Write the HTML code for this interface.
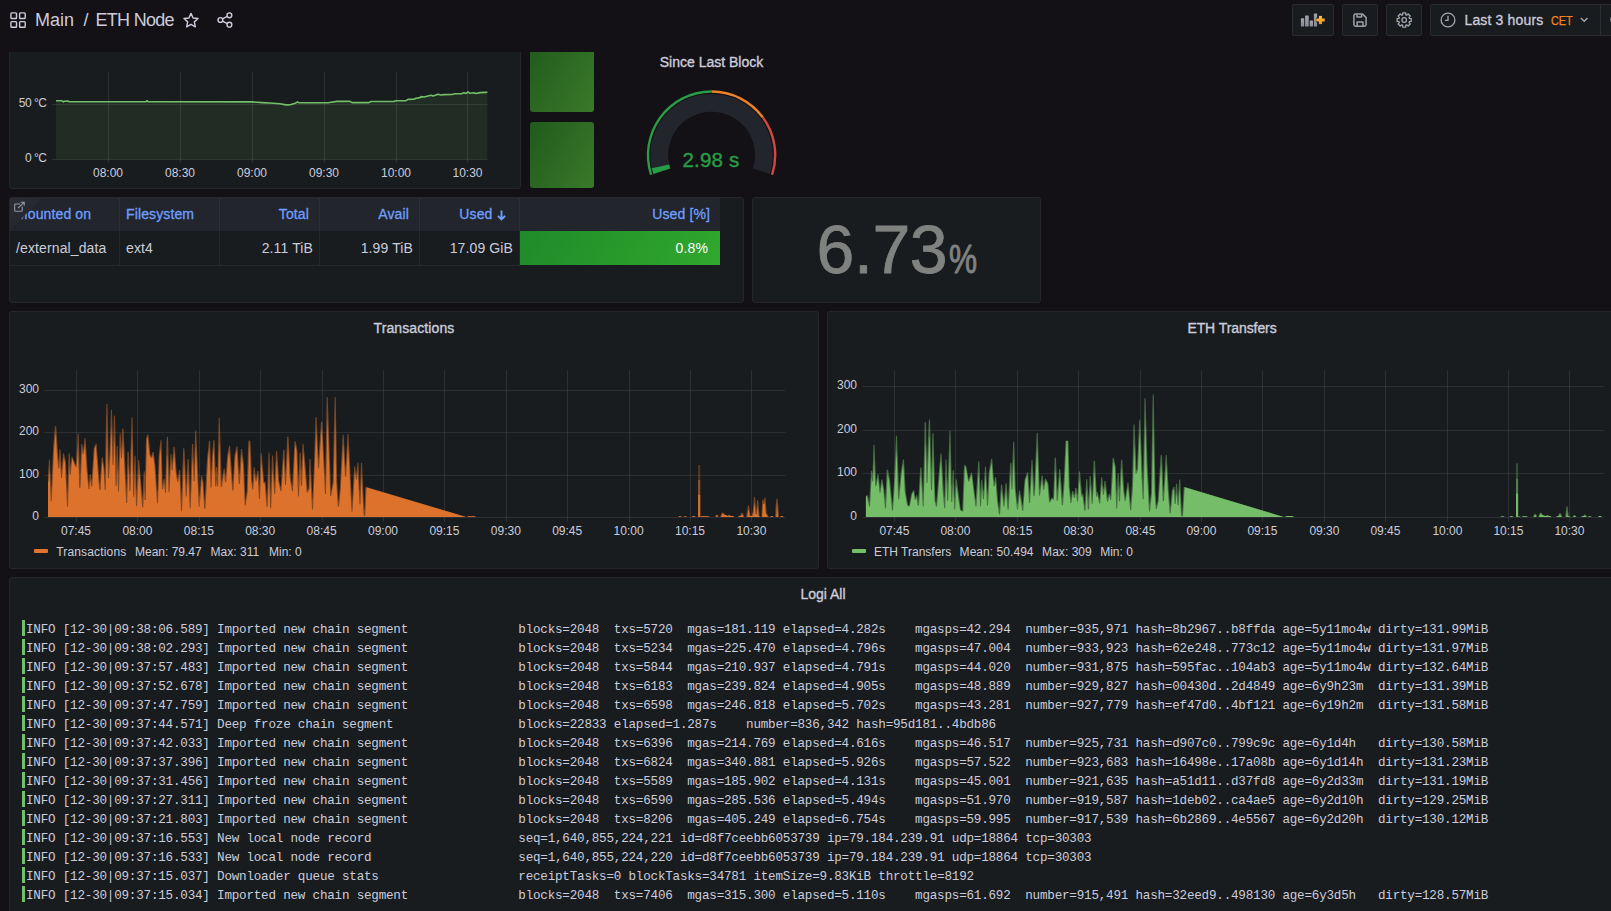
<!DOCTYPE html>
<html lang="en">
<head>
<meta charset="utf-8">
<title>ETH Node - Grafana</title>
<style>
*{box-sizing:border-box;margin:0;padding:0}
html,body{width:1611px;height:911px;overflow:hidden;background:#131115;color:#ccccdc;font-family:"Liberation Sans",sans-serif;font-size:14px}
.abs{position:absolute}
.panel{position:absolute;background:#181c1e;border:1px solid #25252b;border-radius:3px;overflow:hidden}
.ptitle{position:absolute;left:0;right:0;top:6px;height:20px;line-height:20px;text-align:center;font-size:14px;color:#ccccdc;-webkit-text-stroke:0.35px #ccccdc;white-space:nowrap}
.tbtn{position:absolute;top:4px;height:32px;background:#181c1e;border:1px solid #2a2c32;border-radius:2px}
svg{position:absolute;left:0;top:0;overflow:visible}
svg text{font-family:"Liberation Sans",sans-serif;fill:#ccccdc;font-size:12px}
.ax{font-size:12px;fill:#ccccdc}
.th{position:absolute;top:0;height:33px;line-height:32px;color:#6e9fff;font-size:14px;letter-spacing:0.12px;-webkit-text-stroke:0.3px #6e9fff;white-space:nowrap;border-right:1px solid #2c2f35;padding:0 10px 0 6px}
.td{position:absolute;top:33px;height:35px;line-height:35px;color:#ccccdc;font-size:14px;letter-spacing:0.12px;white-space:nowrap;border-right:1px solid #26282d;border-bottom:1px solid #26282d;padding:0 6px 0 6px}
.r{text-align:right}
.legend{position:absolute;font-size:12px;line-height:16px;color:#ccccdc;white-space:nowrap}
#logs{position:absolute;left:0;top:0}
.ll{position:absolute;left:16px;height:19px;line-height:19px;white-space:pre;font-family:"Liberation Mono",monospace;font-size:12.6px;letter-spacing:-0.21px;color:#ccccdc}
.lb{position:absolute;left:12px;width:3px;height:16px;background:#73bf69}
</style>
</head>
<body>
<div class="panel" id="p-temp" style="left:9px;top:30px;width:512px;height:159px"></div>
<div class="abs" id="g1" style="left:530px;top:40px;width:64px;height:72px;border-radius:3px;background:linear-gradient(120deg,#215a1c,#3a7a2a)"></div>
<div class="abs" id="g2" style="left:530px;top:122px;width:64px;height:66px;border-radius:3px;background:linear-gradient(120deg,#215a1c,#3a7a2a)"></div>
<div class="abs" id="p-gauge" style="left:603px;top:46px;width:217px;height:143px"><div class="ptitle" style="top:6px">Since Last Block</div></div>
<div class="panel" id="p-table" style="left:9px;top:197px;width:735px;height:106px">
<div class="abs" style="left:0;top:0;width:710px;height:33px;background:#22252b"></div>
<div class="th " style="left:0px;width:110px;">Mounted on</div>
<div class="td " style="left:0px;width:110px">/external_data</div>
<div class="th " style="left:110px;width:100px;">Filesystem</div>
<div class="td " style="left:110px;width:100px">ext4</div>
<div class="th r" style="left:210px;width:100px;">Total</div>
<div class="td r" style="left:210px;width:100px">2.11 TiB</div>
<div class="th r" style="left:310px;width:100px;">Avail</div>
<div class="td r" style="left:310px;width:100px">1.99 TiB</div>
<div class="th r" style="left:410px;width:100px;padding-right:13.5px;">Used<svg style="position:static;display:inline-block;vertical-align:-2px;margin-left:4px" width="9" height="11" viewBox="0 0 9 11"><path d="M4.5 0.6 V9.4 M0.9 5.8 L4.5 9.5 L8.1 5.8" fill="none" stroke="#6e9fff" stroke-width="1.9"/></svg></div>
<div class="td r" style="left:410px;width:100px">17.09 GiB</div>
<div class="th r" style="left:510px;width:200px;border-right:none;padding-right:10px">Used [%]</div>
<div class="td r" style="left:510px;width:200px;border:none;height:34px;background:linear-gradient(120deg,#1f8a29,#30a82d);color:#fff;padding-right:12px">0.8%</div>
<svg width="40" height="40" viewBox="0 0 40 40"><defs><linearGradient id="gc" x1="0" y1="0" x2="1" y2="1"><stop offset="0" stop-color="#2b2e35"/><stop offset="0.5" stop-color="#25282e"/></linearGradient></defs><path d="M0 0 H32 L0 32 Z" fill="url(#gc)"/><g fill="none" stroke="#9597a3" stroke-width="1.1"><path d="M10.2 6 H5.6 a0.9 0.9 0 0 0 -0.9 0.9 V12.4 a0.9 0.9 0 0 0 0.9 0.9 H11.3 a0.9 0.9 0 0 0 0.9 -0.9 V8.6"/><path d="M8 10.2 L13.8 4.6 M10.6 4.3 H14.2 V7.8"/></g></svg>
</div>
<div class="panel" id="p-stat" style="left:752px;top:197px;width:289px;height:106px"><div class="abs" id="bigv" style="left:63.5px;top:10.5px;font-size:68px;line-height:80px;color:#808280;-webkit-text-stroke:0.8px #808280;white-space:nowrap;letter-spacing:-0.4px">6.73</div><div class="abs" id="bigp" style="left:196px;top:37px;font-size:40.5px;line-height:48px;color:#808280;-webkit-text-stroke:0.9px #808280;transform:scaleX(0.78);transform-origin:0 0">%</div></div>
<div class="panel" id="p-tx" style="left:9px;top:311px;width:810px;height:258px"><div class="ptitle" style="letter-spacing:0.1px">Transactions</div>
<div class="abs" style="left:24px;top:237px;width:14px;height:4px;background:#e0742d;border-radius:1px"></div><span class="legend" style="left:46.2px;top:232px;letter-spacing:0.17px">Transactions</span><span class="legend" style="left:125.0px;top:232px;letter-spacing:0px">Mean: 79.47</span><span class="legend" style="left:200.4px;top:232px;letter-spacing:0.04px">Max: 311</span><span class="legend" style="left:259.0px;top:232px;letter-spacing:0px">Min: 0</span>
</div>
<div class="panel" id="p-eth" style="left:827px;top:311px;width:810px;height:258px"><div class="ptitle" style="letter-spacing:-0.08px">ETH Transfers</div>
<div class="abs" style="left:24px;top:237px;width:14px;height:4px;background:#73bf69;border-radius:1px"></div><span class="legend" style="left:46.0px;top:232px;letter-spacing:0px">ETH Transfers</span><span class="legend" style="left:131.6px;top:232px;letter-spacing:0.05px">Mean: 50.494</span><span class="legend" style="left:214.1px;top:232px;letter-spacing:0.04px">Max: 309</span><span class="legend" style="left:272.2px;top:232px;letter-spacing:0px">Min: 0</span>
</div>
<div class="panel" id="p-logs" style="left:9px;top:577px;width:1628px;height:400px"><div class="ptitle">Logi All</div>
<div class="lb" style="top:42px"></div><div class="ll" style="top:43px">INFO [12-30|09:38:06.589] Imported new chain segment               blocks=2048  txs=5720  mgas=181.119 elapsed=4.282s    mgasps=42.294  number=935,971 hash=8b2967..b8ffda age=5y11mo4w dirty=131.99MiB</div>
<div class="lb" style="top:61px"></div><div class="ll" style="top:62px">INFO [12-30|09:38:02.293] Imported new chain segment               blocks=2048  txs=5234  mgas=225.470 elapsed=4.796s    mgasps=47.004  number=933,923 hash=62e248..773c12 age=5y11mo4w dirty=131.97MiB</div>
<div class="lb" style="top:80px"></div><div class="ll" style="top:81px">INFO [12-30|09:37:57.483] Imported new chain segment               blocks=2048  txs=5844  mgas=210.937 elapsed=4.791s    mgasps=44.020  number=931,875 hash=595fac..104ab3 age=5y11mo4w dirty=132.64MiB</div>
<div class="lb" style="top:99px"></div><div class="ll" style="top:100px">INFO [12-30|09:37:52.678] Imported new chain segment               blocks=2048  txs=6183  mgas=239.824 elapsed=4.905s    mgasps=48.889  number=929,827 hash=00430d..2d4849 age=6y9h23m  dirty=131.39MiB</div>
<div class="lb" style="top:118px"></div><div class="ll" style="top:119px">INFO [12-30|09:37:47.759] Imported new chain segment               blocks=2048  txs=6598  mgas=246.818 elapsed=5.702s    mgasps=43.281  number=927,779 hash=ef47d0..4bf121 age=6y19h2m  dirty=131.58MiB</div>
<div class="lb" style="top:137px"></div><div class="ll" style="top:138px">INFO [12-30|09:37:44.571] Deep froze chain segment                 blocks=22833 elapsed=1.287s    number=836,342 hash=95d181..4bdb86</div>
<div class="lb" style="top:156px"></div><div class="ll" style="top:157px">INFO [12-30|09:37:42.033] Imported new chain segment               blocks=2048  txs=6396  mgas=214.769 elapsed=4.616s    mgasps=46.517  number=925,731 hash=d907c0..799c9c age=6y1d4h   dirty=130.58MiB</div>
<div class="lb" style="top:175px"></div><div class="ll" style="top:176px">INFO [12-30|09:37:37.396] Imported new chain segment               blocks=2048  txs=6824  mgas=340.881 elapsed=5.926s    mgasps=57.522  number=923,683 hash=16498e..17a08b age=6y1d14h  dirty=131.23MiB</div>
<div class="lb" style="top:194px"></div><div class="ll" style="top:195px">INFO [12-30|09:37:31.456] Imported new chain segment               blocks=2048  txs=5589  mgas=185.902 elapsed=4.131s    mgasps=45.001  number=921,635 hash=a51d11..d37fd8 age=6y2d33m  dirty=131.19MiB</div>
<div class="lb" style="top:213px"></div><div class="ll" style="top:214px">INFO [12-30|09:37:27.311] Imported new chain segment               blocks=2048  txs=6590  mgas=285.536 elapsed=5.494s    mgasps=51.970  number=919,587 hash=1deb02..ca4ae5 age=6y2d10h  dirty=129.25MiB</div>
<div class="lb" style="top:232px"></div><div class="ll" style="top:233px">INFO [12-30|09:37:21.803] Imported new chain segment               blocks=2048  txs=8206  mgas=405.249 elapsed=6.754s    mgasps=59.995  number=917,539 hash=6b2869..4e5567 age=6y2d20h  dirty=130.12MiB</div>
<div class="lb" style="top:251px"></div><div class="ll" style="top:252px">INFO [12-30|09:37:16.553] New local node record                    seq=1,640,855,224,221 id=d8f7ceebb6053739 ip=79.184.239.91 udp=18864 tcp=30303</div>
<div class="lb" style="top:270px"></div><div class="ll" style="top:271px">INFO [12-30|09:37:16.533] New local node record                    seq=1,640,855,224,220 id=d8f7ceebb6053739 ip=79.184.239.91 udp=18864 tcp=30303</div>
<div class="lb" style="top:289px"></div><div class="ll" style="top:290px">INFO [12-30|09:37:15.037] Downloader queue stats                   receiptTasks=0 blockTasks=34781 itemSize=9.83KiB throttle=8192</div>
<div class="lb" style="top:308px"></div><div class="ll" style="top:309px">INFO [12-30|09:37:15.034] Imported new chain segment               blocks=2048  txs=7406  mgas=315.300 elapsed=5.110s    mgasps=61.692  number=915,491 hash=32eed9..498130 age=6y3d5h   dirty=128.57MiB</div>
</div>
<svg id="charts" width="1611" height="911" viewBox="0 0 1611 911">
<line x1="108.5" x2="108.5" y1="72" y2="163" stroke="#c8d2d2" stroke-opacity="0.115" stroke-width="1"/><line x1="180.5" x2="180.5" y1="72" y2="163" stroke="#c8d2d2" stroke-opacity="0.115" stroke-width="1"/><line x1="252.5" x2="252.5" y1="72" y2="163" stroke="#c8d2d2" stroke-opacity="0.115" stroke-width="1"/><line x1="324.5" x2="324.5" y1="72" y2="163" stroke="#c8d2d2" stroke-opacity="0.115" stroke-width="1"/><line x1="396.5" x2="396.5" y1="72" y2="163" stroke="#c8d2d2" stroke-opacity="0.115" stroke-width="1"/><line x1="467.5" x2="467.5" y1="72" y2="163" stroke="#c8d2d2" stroke-opacity="0.115" stroke-width="1"/><line x1="52" x2="487.5" y1="104.5" y2="104.5" stroke="#c8d2d2" stroke-opacity="0.115" stroke-width="1"/><line x1="52" x2="487.5" y1="159.5" y2="159.5" stroke="#c8d2d2" stroke-opacity="0.115" stroke-width="1"/>
<path d="M56 100.8L62 100.8L63.5 101.9L64 101.2L68 101L69 101.7L146 101.7L147 100.6L148 101.7L252 101.9L262 102.6L270 103L280 103.8L286 104.9L291 104.6L296 103L297.5 101.8L299 102.8L328 102.7L337 101.4L350 101.4L352 102.6L369 102.6L371 101.5L394 101.5L396 100.7L406 100.6L408 99.4L414 99.3L416 98.2L420 97.6L421 96.6L424 97L428 96L431 95.2L433 96L436 95L438 94.2L441 95L444 94.6L452 94.5L455 93.8L462 93.6L464 92.8L466 93.4L468 92L470 93.3L474 92.8L476 93.5L480 92.6L486 92.4L487.4 92L487.4 159.5L56 159.5Z" fill="#73bf69" fill-opacity="0.1"/>
<path d="M56 100.8L62 100.8L63.5 101.9L64 101.2L68 101L69 101.7L146 101.7L147 100.6L148 101.7L252 101.9L262 102.6L270 103L280 103.8L286 104.9L291 104.6L296 103L297.5 101.8L299 102.8L328 102.7L337 101.4L350 101.4L352 102.6L369 102.6L371 101.5L394 101.5L396 100.7L406 100.6L408 99.4L414 99.3L416 98.2L420 97.6L421 96.6L424 97L428 96L431 95.2L433 96L436 95L438 94.2L441 95L444 94.6L452 94.5L455 93.8L462 93.6L464 92.8L466 93.4L468 92L470 93.3L474 92.8L476 93.5L480 92.6L486 92.4L487.4 92" fill="none" stroke="#73bf69" stroke-width="1.6" stroke-linejoin="round"/>
<text class="ax" x="108" y="177" text-anchor="middle">08:00</text>
<text class="ax" x="180" y="177" text-anchor="middle">08:30</text>
<text class="ax" x="252" y="177" text-anchor="middle">09:00</text>
<text class="ax" x="324" y="177" text-anchor="middle">09:30</text>
<text class="ax" x="396" y="177" text-anchor="middle">10:00</text>
<text class="ax" x="467.5" y="177" text-anchor="middle">10:30</text>
<text class="ax" x="46.6" y="107" text-anchor="end" style="letter-spacing:-0.45px">50 °C</text>
<text class="ax" x="46.6" y="162" text-anchor="end" style="letter-spacing:-0.45px">0 °C</text>
<line x1="76.5" x2="76.5" y1="370" y2="522" stroke="#c8d2d2" stroke-opacity="0.115" stroke-width="1"/><line x1="137.5" x2="137.5" y1="370" y2="522" stroke="#c8d2d2" stroke-opacity="0.115" stroke-width="1"/><line x1="199.5" x2="199.5" y1="370" y2="522" stroke="#c8d2d2" stroke-opacity="0.115" stroke-width="1"/><line x1="260.5" x2="260.5" y1="370" y2="522" stroke="#c8d2d2" stroke-opacity="0.115" stroke-width="1"/><line x1="322.5" x2="322.5" y1="370" y2="522" stroke="#c8d2d2" stroke-opacity="0.115" stroke-width="1"/><line x1="383.5" x2="383.5" y1="370" y2="522" stroke="#c8d2d2" stroke-opacity="0.115" stroke-width="1"/><line x1="444.5" x2="444.5" y1="370" y2="522" stroke="#c8d2d2" stroke-opacity="0.115" stroke-width="1"/><line x1="506.5" x2="506.5" y1="370" y2="522" stroke="#c8d2d2" stroke-opacity="0.115" stroke-width="1"/><line x1="567.5" x2="567.5" y1="370" y2="522" stroke="#c8d2d2" stroke-opacity="0.115" stroke-width="1"/><line x1="629.5" x2="629.5" y1="370" y2="522" stroke="#c8d2d2" stroke-opacity="0.115" stroke-width="1"/><line x1="690.5" x2="690.5" y1="370" y2="522" stroke="#c8d2d2" stroke-opacity="0.115" stroke-width="1"/><line x1="751.5" x2="751.5" y1="370" y2="522" stroke="#c8d2d2" stroke-opacity="0.115" stroke-width="1"/><line x1="44.5" x2="785.5" y1="390.5" y2="390.5" stroke="#c8d2d2" stroke-opacity="0.115" stroke-width="1"/><line x1="44.5" x2="785.5" y1="432.5" y2="432.5" stroke="#c8d2d2" stroke-opacity="0.115" stroke-width="1"/><line x1="44.5" x2="785.5" y1="475.5" y2="475.5" stroke="#c8d2d2" stroke-opacity="0.115" stroke-width="1"/><line x1="44.5" x2="785.5" y1="517.5" y2="517.5" stroke="#c8d2d2" stroke-opacity="0.115" stroke-width="1"/>
<defs><filter id="hb" x="-1%" y="-1%" width="102%" height="102%"><feGaussianBlur stdDeviation="0.55 0.15"/></filter></defs>
<g clip-path="url(#ctx)"><path d="M48 474.4L49 459.4L50 459.4L51.2 489.9L53.2 446.5L55 426.3L56.2 426.3L58.5 460.8L58.7 461.3L59.5 449.6L60.5 449.6L61.5 468.5L61.7 469.3L63 453.5L64 453.5L66 462.7L67.2 492.5L68.7 453.2L69.7 453.2L70.5 467.1L71.5 456.7L72.5 456.7L75 463.3L75.7 465L76 464.9L77.7 433.5L78.7 433.5L80 475.2L81.2 443.9L82.2 443.9L83.2 450.6L84.5 438.3L85.5 438.3L87.5 469L88.7 482.5L89 482.7L89.7 474.4L90.7 474.4L91.5 480.4L91.7 479.3L93.7 448.3L95.7 443.7L96.7 443.7L99.7 484.3L101.7 457.2L102.7 457.2L104.5 468.8L105 477L106.2 409.7L106.5 403.9L107.5 403.9L108.7 465.8L109.7 447.2L111 409.9L112 409.9L113 447.1L114 415.4L115 415.4L116.2 466L116.7 446.1L117.7 446.1L118.5 472.7L119.7 433.2L120.7 433.2L121.5 448.2L122.2 428.5L123.2 428.5L123.5 429.6L126.5 489.7L127.5 452.8L127.7 451.8L128.7 451.8L129.7 474.4L130 473.2L131.5 417.2L132.5 417.2L133.7 476.9L134.5 455.7L135.5 455.7L136.7 492.2L138.2 460L139.2 460L142.5 498.7L143.7 471.3L144.7 471.3L145 476.5L145.2 473.7L146 438.6L147.2 434.4L148.2 434.4L148.5 435.7L150.5 455L151.2 456.5L152.5 452.1L153.5 452.1L153.7 452.8L155.5 465.9L157.2 492.1L157.5 491L158.7 455.6L160.5 440.2L161.5 440.2L162.7 484.5L163.7 478.8L164.7 478.8L165.2 484.4L166.7 439.7L167 436.7L168 436.7L169.2 477.8L170.5 454.2L171.5 454.2L172.2 463.6L173.5 446.9L174.7 447L176.7 472.7L177.7 478.7L179.2 469.8L180.2 469.8L181.5 497.3L183.2 448.3L184.2 448.3L184.5 449.7L186.2 485.8L187.5 459.2L188.5 459.2L188.7 459.5L190.2 494L192 443.9L193 443.9L193.2 445.6L194 465.5L194.2 464.4L195.2 430.8L196.2 430.8L199.2 496.8L199.5 496.6L201 475.9L202 475.9L203.5 481.9L204.7 500.7L207 459.2L209 440.7L210 440.7L210.2 441.3L211 470.4L211.2 471.8L212 456.1L213.2 442.2L213.5 440L214.5 440L215.7 473.5L216 467L217 467L217.5 473.9L218.7 417.8L219.7 417.8L221.7 481.5L223.7 468.4L224.7 468.4L225.5 476.7L227.2 456L229 445.8L230 445.8L230.2 447.9L232.7 483.9L234.5 455.7L236.5 446.5L237.5 446.5L237.7 449.1L239.2 475.3L241 449.1L242 449.1L244 465.1L245.5 500.3L246.7 491.6L248.2 444L248.5 440.6L249.5 440.6L250.2 441.1L250.5 441.8L252 480.1L252.5 484.6L253.7 467.3L254.7 467.3L256 478.3L257.2 471.1L258.5 471.1L259.5 486.8L260.7 453.3L261.7 453.3L264.2 482.3L264.5 482L265.5 482L267 497.9L268.5 452.5L269.5 452.5L270.7 492.2L272 455.4L273 455.4L274.5 483.8L276 451L277 451L277.2 452L279.2 480.8L280.7 487.8L283.2 449.8L284.2 449.8L284.5 450.3L285.5 473.6L287.2 436.7L288.5 436.6L290.5 475.2L292 485.5L292.2 485.9L294.5 441.1L295.5 441.1L297.2 449.1L297.5 451.6L298.5 481.6L299.5 453.5L299.7 452.6L300.7 452.6L301.5 471.7L302.5 443.7L303.5 443.7L307.7 490.5L308.5 488.4L309.5 459.1L310.5 459.1L312.5 499.2L314 465L315.5 417L316.5 417L316.7 419.3L318.5 459L321 421.8L322.2 421.9L325.2 478.3L326.7 397L327.7 397L331 489.7L331.2 490.4L332.7 482L334.7 397L335.7 397L337.2 481.3L338.5 501.9L339.7 490L342.7 434.7L343.7 434.7L345.5 467.3L345.7 466.8L347.5 434.1L348.5 434.1L352 502.8L354.2 466.5L355.2 466.5L356.2 474.7L357.5 462.4L358.5 462.4L359.7 490L360 490.5L361 463.1L362 463.1L364.2 509.9L364.5 509.5L365.2 489.4L365.5 487.1L366.5 487.1L466.5 517L467.7 516.3L475.7 516.3L476.2 517L678 517L678.7 516.1L681.5 516.1L681.7 517L683.7 517L684 516.1L686.5 516.1L687 517L691.5 517L692 516L695.5 516L695.7 517L699.7 517L700.2 516.3L709.5 516.3L709.7 517L715.2 517L715.7 514.7L718 514.7L718.7 517L720 517L722 512.5L723 512.5L725 514.7L726.7 515.1L727.5 515.7L728.7 514.9L729.7 514.9L731.5 516.1L734.2 516.1L734.5 517L737.7 517L738.2 516L740.2 515.8L741.5 512.7L742.5 512.7L744.5 517L746.2 517L748 505.4L749 505.4L750.5 515.4L750.7 516.1L751.5 516L752.7 512L754 497L755 497L756.2 510.8L757.2 500.1L758.2 500.1L759.5 515.6L760.5 517L761.2 517L761.5 515.8L762.2 499.5L763.2 499.5L763.7 501.8L764.5 497.6L765.5 497.6L766.7 513.7L767.7 514.6L768.7 517L769.7 517L770.2 516.1L773.2 516.1L773.7 517L775.2 517L775.7 505.1L776.5 498.5L777.5 498.5L778.2 504.7L779 517L779.7 517L780.2 516L783.5 516L783.7 517L785.7 517L785.7 517L48 517Z" fill="#e0742d" fill-opacity="0.5"/><path d="M48 481.9L48.5 481.9L49.5 469.5L50.7 501.3L51.7 501.3L54 450.3L55.5 432.1L57 455.4L58.2 468.4L59.2 468.4L60 459.1L61 478L62 478L63.7 456.9L65 462.7L67 506.7L68 506.7L69.2 465.7L69.7 474.7L70.7 474.7L72.2 458.7L75.7 467.3L76.7 467.3L78 447L79.2 487.8L80.5 487.7L82 450.2L82.7 454.1L83.7 454.1L85 444L86.5 469L88.5 489L89.5 489L90.2 479.6L91.2 486.4L92.2 486.4L94.7 448.3L95.7 446L99.2 489.7L99.5 490L100.5 490L102.2 462.6L102.5 462.2L103.5 468.8L104.7 490.1L105.7 490.1L107 428.7L108 478.2L109 478.2L110.5 453.4L111.5 427.1L112.5 465L113.5 465L114.5 434.6L115.5 482.7L115.7 485.9L116.7 485.9L117.2 466L118 491.6L119 491.6L120.2 446.1L121 458.2L122 458.2L123 440.5L126.2 503L127.2 503L128.2 463.7L129.5 491.2L130.5 491.2L132 436.7L133.2 496.8L134.2 496.8L135 472.2L136 505.9L137 505.9L139 468.7L142.2 507.4L143.2 507.4L144.2 487.9L144.5 499.4L144.7 500L145.7 500L146.7 447.3L147 438.6L147.5 436.9L149.5 455L151 458L152 458L153 454.7L154.5 465.9L157 503.3L158 503.3L159.7 455.6L160.7 447.2L162 488.9L163 488.9L164 483L165 492.8L166 492.8L167.2 455.1L167.5 455.3L168.5 492.3L169.5 492.3L171 462.2L171.7 470.2L172.7 470.2L174 453.6L174.2 453.5L175.7 472.7L177.2 481.7L178.2 481.7L179.5 474.4L181 511.3L182 511.3L184 460.4L185.7 496.4L186.7 496.4L188 469.8L189.7 508.3L190.7 508.3L192.5 458.2L192.7 458.8L193.5 478.7L193.7 481.2L194.7 481.2L195.7 447.6L196 447.5L198.7 506.8L199.7 506.8L201.7 478.9L202.5 481.9L204.2 508.2L204.5 508.8L205.5 508.8L208 459.2L209.2 447.6L210.5 487.4L211.5 487.4L213 456.1L213.7 447.5L215.2 486.4L216.2 486.4L216.5 480L217 486.6L218 486.6L218.2 485.3L219.2 439.7L220.7 486.2L221 486.9L222 486.9L224 472.5L225 482.3L226 482.3L226.2 481.7L228.2 456L229.2 450.2L232.2 489.4L232.5 490.4L233.5 490.4L235.2 458.3L235.5 455.7L236.7 449.9L238.7 484.1L239.7 484.1L240 482L241.7 454.5L243 465.1L244.7 505.5L245.7 505.5L247.7 491.6L249.5 441.8L251 480.1L252.2 489.3L253.2 489.3L254.5 473.6L255.5 481.2L256.5 481.2L257.5 475.4L257.7 475.7L259 498.9L260 498.9L261.5 461.2L263.2 482.5L263.5 483.3L264.5 483.3L264.7 483.9L266.5 506.8L267.5 506.8L267.7 506.3L269 469.8L270 504.3L270.2 508.3L271.2 508.3L272.5 467.9L274.2 494L275.2 494L276.7 459.5L278.2 480.8L280.5 491.3L281.5 491.3L283.7 457.5L285 484.9L286 484.9L288 446.3L289.7 478L292 491.2L293 491.2L295.2 444.5L296.5 451.6L298 496.6L299 496.6L300 468.7L300.2 468L300.7 483.4L301 485.8L302 485.8L303.2 451.2L306.7 492.4L308 492.5L309.5 488.4L310 474.5L310.2 473.8L312 509.4L313 509.4L316.2 430.7L318 468.4L319 468.4L321.5 429.6L321.7 430.8L325 493.9L326 493.9L327.5 417L330.2 496L331.2 496L333.7 482L335.2 419.5L336.2 481.3L337.7 506.5L339 506.7L340.7 490L343.2 444L345 476.7L346 476.7L346.2 476.1L348 443.9L351.5 511.8L352.5 511.8L354.7 473.5L355 472.6L356 479.6L357 479.6L357.7 471L359.5 504.2L360.5 504.2L361.5 476.8L361.7 477.4L363.5 514L364 516.1L364.2 516.2L365.2 516.2L366.5 487.4L466 517L467.2 517L468.7 516.3L474.7 516.3L475.2 517L679 517L679.7 516.1L680.5 516.1L680.7 517L684.7 517L685 516.1L685.5 516.1L686 517L692.5 517L693 516L694.5 516L694.7 517L700.7 517L701.2 516.3L708.5 516.3L708.7 517L716.2 517L716.7 514.7L717 514.7L717.7 517L721 517L722.7 513.2L724 514.7L725.7 515.1L727 516L728 516L729.2 515.2L730.5 516.1L733.2 516.1L733.5 517L738.7 517L739.2 516L741.2 515.8L742 513.9L743.5 517L747.2 517L748.5 508.9L749.7 516.1L752.5 516L753.7 512L754.5 503L755.5 513.8L756 514.5L757 514.5L757.7 506.6L758.5 515.6L759.5 517L762.2 517L763 504L764.2 504.1L764.7 501.9L765.7 513.7L766.7 514.6L767.7 517L770.7 517L771.2 516.1L772.2 516.1L772.7 517L776.2 517L777 502.8L778 517L780.7 517L781.2 516L782.5 516L782.7 517L785.7 517L785.7 517L48 517Z" fill="#e0742d" fill-opacity="0.97"/></g>
<defs><clipPath id="ctx"><rect x="47.4" y="380" width="738.2" height="137"/></clipPath><clipPath id="ceth"><rect x="865.7" y="376" width="738" height="141"/></clipPath></defs>
<path d="M47.96 481.91 L49.55 458.03 L51.15 502.61 L53.54 448.47 L55.61 424.59 L57.52 456.43 L58.79 469.17 L59.90 448.47 L61.50 478.73 L63.41 453.25 L65.48 462.80 L67.39 508.98 L69.14 451.66 L70.25 475.54 L71.85 456.43 L74.24 462.80 L76.31 467.58 L78.22 433.34 L79.81 491.46 L81.72 443.69 L83.31 454.84 L85.06 437.32 L86.97 469.17 L88.89 489.87 L90.16 473.95 L91.75 486.69 L94.14 448.47 L96.21 443.69 L98.12 472.36 L99.87 491.46 L102.10 456.43 L104.01 469.17 L105.29 491.46 L106.88 399.90 L108.47 478.73 L110.06 451.66 L111.50 408.66 L112.93 465.99 L114.52 413.44 L116.11 489.87 L117.23 445.29 L118.50 493.06 L120.10 430.96 L121.53 459.62 L122.80 426.18 L124.71 467.58 L126.78 504.20 L128.06 448.47 L129.97 491.46 L132.04 414.24 L133.63 499.43 L135.06 452.45 L136.50 507.39 L138.73 459.62 L140.64 483.50 L142.71 507.39 L144.30 469.17 L145.10 505.80 L146.37 438.92 L147.80 434.14 L149.87 454.84 L151.46 458.03 L153.06 451.66 L154.97 465.99 L157.52 504.20 L159.11 456.43 L161.02 439.71 L162.29 489.87 L164.20 478.73 L165.48 493.06 L167.39 434.14 L168.98 493.06 L170.89 453.25 L172.17 470.76 L174.08 445.29 L176.15 472.36 L177.74 481.91 L179.81 469.17 L181.40 512.96 L183.79 446.08 L186.18 497.04 L188.09 456.43 L190.16 509.78 L192.55 441.31 L194.14 483.50 L195.73 430.16 L197.64 475.54 L199.24 507.39 L201.37 475.54 L202.96 481.91 L204.87 510.57 L207.42 459.62 L209.65 438.92 L210.92 488.28 L212.52 454.84 L213.95 439.71 L215.70 486.69 L216.50 465.99 L217.61 489.87 L219.20 417.42 L221.27 488.28 L224.14 467.58 L225.57 483.50 L227.64 456.43 L229.55 445.29 L231.31 473.95 L232.90 491.46 L234.81 456.43 L237.04 446.08 L239.27 485.10 L241.50 448.47 L243.57 465.99 L245.16 505.80 L247.23 491.46 L248.82 440.51 L249.94 441.31 L251.53 481.91 L252.80 489.87 L254.24 466.78 L255.83 481.91 L257.90 469.97 L259.49 499.43 L261.24 452.45 L263.79 483.50 L265.06 481.91 L267.13 508.98 L268.89 450.06 L270.64 510.57 L272.39 454.04 L274.62 496.24 L276.53 449.27 L278.60 480.32 L280.99 491.46 L283.85 447.68 L285.45 485.10 L287.83 434.14 L290.06 477.13 L292.45 491.46 L294.84 440.51 L296.91 450.06 L298.50 497.83 L300.10 449.27 L301.37 488.28 L302.96 443.69 L304.87 462.80 L307.26 493.06 L309.01 488.28 L309.97 458.82 L312.52 510.57 L314.43 465.99 L316.02 415.03 L318.41 469.17 L321.59 419.81 L323.66 456.43 L325.57 496.24 L327.17 395.92 L329.08 446.88 L330.67 496.24 L333.22 481.91 L335.29 393.54 L336.72 481.91 L338.31 508.18 L340.22 489.87 L343.18 434.14 L345.57 478.73 L347.96 434.14 L351.94 512.17 L354.65 465.99 L356.40 480.32 L357.99 462.01 L359.90 505.80 L361.50 462.01 L363.89 513.76 L364.68 516.62 L365.80 487.01 L466.59 516.62 M678.50 517.30 L679.13 516.15 L681.00 516.15 L681.19 517.27 L684.27 517.27 L684.45 516.15 L686.13 516.15 L686.32 517.27 L692.20 517.27 L692.38 515.97 L695.00 515.97 L695.18 517.27 M715.81 517.27 L716.18 514.66 L717.68 514.66 L718.05 517.27 L720.48 516.53 L722.53 512.33 L724.40 514.66 L726.26 515.13 L727.38 516.06 L729.25 514.85 L730.93 516.06 L733.73 516.15 L733.92 517.27 L738.21 517.27 L738.58 516.06 L740.73 515.78 L741.94 512.61 L743.25 515.59 L743.99 517.27 L746.79 516.53 L748.47 505.33 L750.06 516.06 L751.93 516.06 L753.14 512.80 L754.54 496.00 L755.94 513.73 L756.59 514.66 L757.81 498.80 L758.93 515.59 L759.86 517.27 L761.91 516.53 L762.66 499.26 L763.78 504.40 L764.99 497.40 L766.21 513.73 L767.33 514.66 L768.07 517.27 L770.41 517.27 L770.69 516.06 L772.93 516.06 L773.11 517.27 L775.73 517.27 L776.19 505.33 L776.94 498.33 L777.78 505.33 L778.34 517.27 L780.21 517.27 L780.58 515.97 L783.01 515.97 L783.19 517.27" fill="none" stroke="#e0742d" stroke-width="1" stroke-linejoin="round" stroke-opacity="0.0"/>
<text class="ax" x="76.0" y="535" text-anchor="middle">07:45</text>
<text class="ax" x="137.4" y="535" text-anchor="middle">08:00</text>
<text class="ax" x="198.8" y="535" text-anchor="middle">08:15</text>
<text class="ax" x="260.2" y="535" text-anchor="middle">08:30</text>
<text class="ax" x="321.6" y="535" text-anchor="middle">08:45</text>
<text class="ax" x="383.0" y="535" text-anchor="middle">09:00</text>
<text class="ax" x="444.4" y="535" text-anchor="middle">09:15</text>
<text class="ax" x="505.8" y="535" text-anchor="middle">09:30</text>
<text class="ax" x="567.2" y="535" text-anchor="middle">09:45</text>
<text class="ax" x="628.6" y="535" text-anchor="middle">10:00</text>
<text class="ax" x="690.0" y="535" text-anchor="middle">10:15</text>
<text class="ax" x="751.4" y="535" text-anchor="middle">10:30</text>
<text class="ax" x="39" y="393.2" text-anchor="end">300</text>
<text class="ax" x="39" y="435.2" text-anchor="end">200</text>
<text class="ax" x="39" y="478.2" text-anchor="end">100</text>
<text class="ax" x="39" y="520.2" text-anchor="end">0</text>
<line x1="894.5" x2="894.5" y1="370" y2="522" stroke="#c8d2d2" stroke-opacity="0.115" stroke-width="1"/><line x1="955.5" x2="955.5" y1="370" y2="522" stroke="#c8d2d2" stroke-opacity="0.115" stroke-width="1"/><line x1="1017.5" x2="1017.5" y1="370" y2="522" stroke="#c8d2d2" stroke-opacity="0.115" stroke-width="1"/><line x1="1078.5" x2="1078.5" y1="370" y2="522" stroke="#c8d2d2" stroke-opacity="0.115" stroke-width="1"/><line x1="1140.5" x2="1140.5" y1="370" y2="522" stroke="#c8d2d2" stroke-opacity="0.115" stroke-width="1"/><line x1="1201.5" x2="1201.5" y1="370" y2="522" stroke="#c8d2d2" stroke-opacity="0.115" stroke-width="1"/><line x1="1262.5" x2="1262.5" y1="370" y2="522" stroke="#c8d2d2" stroke-opacity="0.115" stroke-width="1"/><line x1="1324.5" x2="1324.5" y1="370" y2="522" stroke="#c8d2d2" stroke-opacity="0.115" stroke-width="1"/><line x1="1385.5" x2="1385.5" y1="370" y2="522" stroke="#c8d2d2" stroke-opacity="0.115" stroke-width="1"/><line x1="1447.5" x2="1447.5" y1="370" y2="522" stroke="#c8d2d2" stroke-opacity="0.115" stroke-width="1"/><line x1="1508.5" x2="1508.5" y1="370" y2="522" stroke="#c8d2d2" stroke-opacity="0.115" stroke-width="1"/><line x1="1569.5" x2="1569.5" y1="370" y2="522" stroke="#c8d2d2" stroke-opacity="0.115" stroke-width="1"/><line x1="862.5" x2="1603.5" y1="386.5" y2="386.5" stroke="#c8d2d2" stroke-opacity="0.115" stroke-width="1"/><line x1="862.5" x2="1603.5" y1="430.5" y2="430.5" stroke="#c8d2d2" stroke-opacity="0.115" stroke-width="1"/><line x1="862.5" x2="1603.5" y1="473.5" y2="473.5" stroke="#c8d2d2" stroke-opacity="0.115" stroke-width="1"/><line x1="862.5" x2="1603.5" y1="517.5" y2="517.5" stroke="#c8d2d2" stroke-opacity="0.115" stroke-width="1"/>
<g fill="#e0742d"><rect x="698.1" y="465" width="2.1" height="52" opacity="0.3"/><rect x="698.1" y="480" width="2.1" height="37" opacity="0.45"/><rect x="698.1" y="495" width="2.1" height="22" opacity="0.9"/></g>
<g fill="#77c06a"><rect x="1516" y="463.3" width="2.1" height="53.7" opacity="0.3"/><rect x="1516" y="478.7" width="2.1" height="38.3" opacity="0.45"/><rect x="1516" y="493.6" width="2.1" height="23.4" opacity="0.9"/></g>
<g clip-path="url(#ceth)"><path d="M865.7 496.3L866.7 495.3L867.7 495.3L868 495.7L869.2 502.4L871 470.7L872 470.7L872.5 474.8L873.5 444.7L874.5 444.7L876 482.3L877.5 474.3L878.5 474.3L880 487.8L880.2 488L881.2 479.8L881.5 479.4L882.5 479.4L884.2 489.6L885.2 500.1L886.7 470.1L887 469.8L888 469.8L890 479.8L892.5 505L894 481.3L896 435.8L897 435.8L899 491.3L900.7 473.1L903 459.6L904 459.6L905.7 491.7L908 505.1L909 506L911.2 494L913.2 490.3L914.2 490.3L915.2 497.2L915.5 497.5L916.2 495.2L917.2 495.2L918.2 501.2L920.2 467.9L920.5 467.4L921.5 467.4L923 493.4L923.2 490.5L924.7 421.9L925.7 421.9L926 424.2L927 464.4L928.7 423.1L929 419.6L930 419.6L931.5 472.6L932.2 437.8L932.5 433.3L933.5 433.3L935.2 495.2L935.5 500.5L936.2 503.6L940.5 453.5L941.5 453.5L944.2 497.2L944.5 497.7L945.5 459.5L946.5 459.5L947.7 485.3L949.5 431.1L950.5 431.1L951.7 484.3L952 486.1L952.7 470.3L953.7 470.3L954.7 499L955.7 479.3L956.7 479.3L960.7 509L961 510L962.2 510.9L964 465.3L965.2 465.1L966.5 466.9L968.7 479.7L971 472.4L972 472.4L975.7 500.4L978.2 461.3L979.2 461.3L979.5 464.3L980.5 493L981.2 479.8L982.2 479.8L983.2 491L983.5 491.2L985 466.8L986 466.8L987.5 495L988.7 473.5L991 459.3L991.2 458.9L992.2 458.9L994.2 482.4L995.2 477.3L996.2 477.3L998 500.5L999.2 509.2L1001 484.4L1002 484.4L1002.2 485.5L1004 501.2L1005.5 483.8L1005.7 483.3L1006.7 483.3L1008 502.1L1010.2 462.8L1011.2 462.8L1011.5 463.9L1012 475.6L1013.2 441.7L1014.2 441.7L1015.7 488.1L1017.2 503.4L1017.5 504.6L1019 490.6L1020 490.6L1022.7 505.9L1024.5 480L1027.2 472.3L1028.2 472.3L1029.5 493.9L1031.5 460.1L1032.5 460.1L1034.2 490L1036.7 433L1037.7 433L1039.7 489.7L1041.5 475.8L1042.7 475.5L1043.7 485.1L1044 485.3L1045 478.8L1046 478.8L1048.2 483.3L1048.5 484.7L1050 500.7L1051.5 497.7L1052.5 497.7L1053 498.3L1053.2 497.9L1054.7 457.5L1055.7 457.5L1056 459.9L1057.5 492.3L1059.2 469L1060.2 469L1062.5 498.2L1064 475.7L1065.5 441.3L1065.7 440.8L1068.2 440.8L1068.5 441.2L1069.7 486.4L1071 499.1L1072 491L1073.2 490.9L1074.2 495L1074.5 494.8L1075.2 488.2L1075.5 487.9L1076.5 487.9L1077.2 494.7L1077.5 494.7L1079 471.6L1080 471.6L1082 494.4L1082.2 493.7L1083.2 493.7L1084.7 505.7L1086.2 478.9L1087.2 478.9L1088.5 499.6L1089.7 476L1090.7 476L1092.2 495.7L1093.7 460.8L1094.7 460.8L1095 462L1096.7 492.1L1097.7 492.1L1099.5 499.9L1101.2 477.2L1102.2 477.2L1103.5 489.7L1104.5 480.7L1105.5 480.7L1107.7 498.3L1108.7 493.8L1109.7 493.8L1110.5 496.2L1112.5 459.2L1112.7 457.9L1113.7 457.9L1115.7 466.5L1116.7 494.2L1117.7 473.2L1118.7 473.2L1119.5 490.1L1121 461.2L1121.2 459.8L1122.2 459.8L1124 488.1L1125.2 497.5L1127.5 482.5L1128.5 482.5L1130.5 503.1L1130.7 503.4L1132.2 480.5L1133.5 424.4L1134.5 424.4L1136.5 470.7L1137 469.2L1137.2 465.8L1139.2 419.7L1140.2 419.7L1143 485L1144.5 398.3L1145.5 398.3L1147.5 463.9L1149.7 504.4L1151 492.9L1152.7 394.5L1153.7 394.5L1155.5 491.5L1156.5 506L1157.7 501L1160.7 455L1161.7 455L1162 456.5L1163.5 492.4L1165.7 455L1166.7 455L1168.7 489.7L1170.2 507.3L1172 490L1173.5 487L1174.5 487L1175.2 496L1176 483.8L1177 483.8L1178 497.5L1179.2 479.6L1180.2 479.6L1182 515L1183.7 486.9L1184.7 486.9L1284.2 517L1286.2 516.1L1293.5 516.1L1294 517L1499.5 517L1501.7 516.3L1504.2 516.3L1504.7 517L1509.5 517L1510 516.1L1513 516.1L1513.5 517L1517.7 517L1518 516.3L1520.2 516.3L1520.7 517L1521.5 517L1522 516.2L1527.5 516.2L1528 517L1533.2 517L1533.7 514.6L1536.5 514.6L1537 517L1538 517L1540 513L1540.2 512.7L1541.2 512.7L1542.7 514.7L1544.7 515.7L1545.5 515.9L1546.7 515.2L1548 515.2L1549.5 516.1L1551.2 516.1L1551.7 517L1555.5 517L1556 516.4L1558.2 515.8L1559.5 513L1560.5 513L1562.5 517L1565.2 517L1566.5 506.3L1567.5 506.3L1568.7 515.9L1569 516.3L1570.5 516.3L1570.7 517L1572.2 517L1573.7 515.3L1575 515.1L1576.7 517L1580.5 517L1581 516.4L1583 516L1584.5 514.6L1585.5 514.6L1587.2 517L1588 516.2L1591.5 516.2L1591.7 517L1597.7 517L1598.2 516.1L1601.7 516.1L1602 517L1603.7 517L1603.7 517L865.7 517Z" fill="#77c06a" fill-opacity="0.5"/><path d="M865.7 496.8L866.2 496.8L867 496.1L869 506.5L870 506.5L871.7 476.9L872.2 481.3L873.2 481.3L874 459.9L875.2 486.3L876.2 486.3L878 477.8L879.5 492.8L880.5 492.8L882 482.3L883.2 489.6L885 508.3L886 508.3L887.7 473.5L889.2 481.7L892 510.8L893 510.8L895 481.3L896.5 449.4L898.2 499.2L899.2 499.2L901.5 475.3L903.2 464.1L904.7 491.7L907 505.1L908.7 506.6L909.7 506.6L912.2 494L913.5 491.6L914.5 499.1L914.7 499.7L915.7 499.7L916.5 497.5L917.7 505.5L919 505.4L920.7 476.2L921 476.1L922.7 506.4L923.7 506.4L925.2 444.8L925.5 444.3L926.5 483.1L927.5 483.1L929.2 436.5L929.5 437.3L931 490.3L932 490.3L932.2 485.8L933 451L934.5 500.5L936 506.6L937 506.6L940.7 462L941 462.2L942.7 491.7L944.2 508.2L945.2 508.2L946 475.5L947.2 500.8L948.2 500.8L950 451L951.2 501.9L952.2 501.9L953.2 482.8L954.2 509.4L955.2 509.4L956.5 484.8L958 497.3L960 510L962.2 511.5L963.2 511.5L965 466.2L965.7 467.7L968.2 481.6L969.2 481.6L971.2 474.9L971.5 475.2L975.5 506.4L976.5 506.4L978.7 471.5L980 506.3L981 506.3L982 487.8L983 499.3L984 499.3L985.5 474.9L987 505.4L988 505.4L989.7 473.5L991.5 462.4L993.5 485.3L993.7 486.3L994.7 486.3L995.5 481.8L997 500.5L999 514.4L1000 514.4L1000.2 512.2L1001.7 490.2L1003.5 506.5L1004.5 506.5L1006 489.6L1007.5 509.5L1008.7 509.6L1010.7 472.2L1011.5 489.5L1012.5 489.5L1013.7 457.1L1014.7 488.1L1017 509.6L1018 509.6L1019.5 494.5L1019.7 494.3L1022.2 510.7L1023.2 510.7L1025.2 482.1L1025.5 480L1027.2 475.1L1027.5 475.4L1029 502.9L1030 502.9L1032 469.7L1033.2 493.6L1033.5 496.2L1034.5 496.2L1035.2 490L1037 448.6L1037.2 448.2L1039 495.6L1040 495.6L1042 479.7L1043.2 489.8L1044.2 489.8L1045.7 480.3L1047.2 483.3L1047.5 484.7L1049 501.9L1049.2 502.2L1050.2 502.2L1052 498.7L1053 499.8L1054 499.8L1055.2 471L1055.5 471.6L1056.7 500.8L1057.7 500.8L1058 499L1059.7 475.9L1061.7 504.5L1062 505.3L1063 505.3L1064.7 480.4L1066.5 441.3L1066.7 440.8L1067.2 440.8L1067.5 441.2L1068.7 486.4L1070.5 503.1L1071.5 503.1L1072.7 493L1074 498.1L1075 498.1L1075.7 492.6L1076 492.4L1077 501.4L1078 501.4L1079.5 479.3L1081 495L1081.2 496.5L1082.2 496.5L1082.5 495.8L1084.2 509.9L1084.5 510.7L1085.5 510.7L1086.7 488.5L1087.7 508.6L1088 509.6L1089 509.6L1090.2 484.6L1091.7 503.7L1092.7 503.7L1094.5 470.8L1096 496.6L1097 496.6L1097.2 495.1L1097.5 495.2L1099.2 503.4L1100.2 503.4L1101.7 483.6L1103 494.7L1104 494.7L1105 485.7L1107 501.8L1108 501.8L1109.2 496.1L1110.2 499.9L1111.2 499.9L1113.5 461.2L1114.7 466.5L1115 470.4L1116.2 508.4L1117.2 508.4L1118.2 484.5L1119 501.3L1120 501.3L1121.7 467.9L1123.2 491L1124.7 500.7L1125.7 500.7L1128 486.7L1130 508.5L1130.2 510.2L1131.2 510.2L1133 486.1L1134.2 443.1L1135.5 473.7L1136.5 473.7L1138 469.2L1139.7 432.1L1141.2 470.7L1142.7 499.3L1143.7 499.3L1145.2 421.1L1146.5 463.9L1149 511.4L1150 511.4L1152 492.9L1153.2 424.2L1154.5 491.5L1155.7 509L1156.7 509L1158.7 501L1161.2 462.9L1162.7 501.1L1163.7 501.1L1164 500.7L1166.2 463.3L1167.7 489.7L1169.7 513.2L1170.7 513.2L1173 490L1173.5 489L1173.7 490.2L1174.7 504.1L1175.7 504.1L1176.5 491.9L1177.5 504.5L1177.7 505.2L1178.7 505.2L1179.7 488.6L1181 515L1181.7 516.6L1182.7 516.6L1183 516L1184.7 487.2L1283.7 517L1285 517L1287.2 516.1L1292.5 516.1L1293 517L1500.5 517L1502.7 516.3L1503.2 516.3L1503.7 517L1510.5 517L1511 516.1L1512 516.1L1512.5 517L1518.7 517L1519 516.3L1519.5 516.4L1519.7 517L1522.5 517L1523 516.2L1526.5 516.2L1527 517L1534.2 517L1534.7 514.6L1535.5 514.6L1536 517L1539 517L1540.7 513.5L1542 514.9L1544 515.8L1546.2 516L1547.5 515.5L1548.5 516.1L1550.2 516.1L1550.7 517L1556.5 517L1557 516.4L1559.2 515.8L1560 514.2L1560.7 515.8L1561.7 517L1566.2 517L1567 510.5L1567.7 515.9L1568 516.3L1569.5 516.3L1569.7 517L1573 517L1574.5 515.6L1575.7 517L1581.5 517L1582 516.4L1584 516L1585 515.3L1586.2 517L1588.5 517L1589 516.2L1590.5 516.2L1590.7 517L1598.7 517L1599.2 516.1L1600.7 516.1L1601 517L1603.7 517L1603.7 517L865.7 517Z" fill="#77c06a" fill-opacity="0.97"/></g>
<path d="M865.70 496.81 L867.35 495.16 L869.49 506.69 L871.46 470.47 L872.78 482.00 L873.93 444.14 L875.58 486.93 L878.05 473.77 L880.02 493.52 L881.83 478.70 L883.81 490.23 L885.45 508.33 L887.26 468.83 L889.57 480.35 L892.53 511.63 L894.51 480.35 L896.48 435.08 L898.62 500.10 L901.09 473.77 L903.56 458.95 L905.21 491.87 L907.35 505.04 L909.32 506.69 L911.79 493.52 L913.77 490.23 L915.08 500.10 L916.73 495.16 L918.37 506.69 L920.84 465.53 L923.31 508.33 L925.29 417.80 L926.93 483.64 L929.40 417.80 L931.54 493.52 L932.86 430.14 L934.84 500.10 L936.48 506.69 L938.95 477.06 L940.93 453.19 L943.07 490.23 L944.71 508.33 L945.86 457.30 L947.67 501.75 L949.98 430.14 L951.63 503.40 L953.27 468.83 L954.59 511.63 L956.23 478.70 L958.37 496.81 L960.35 509.98 L962.82 511.63 L964.47 464.71 L966.11 467.18 L968.58 482.00 L971.54 472.12 L973.52 486.93 L975.99 506.69 L978.79 459.77 L980.43 506.69 L981.75 478.70 L983.40 500.10 L985.53 465.53 L987.51 506.69 L989.16 473.77 L991.63 458.13 L994.09 486.93 L995.74 477.06 L997.39 500.10 L999.53 514.92 L1001.50 483.64 L1003.97 506.69 L1006.11 482.00 L1008.09 511.63 L1010.82 460.60 L1011.98 490.23 L1013.62 439.20 L1015.27 490.23 L1017.41 509.98 L1019.38 490.23 L1020.70 496.81 L1022.84 511.63 L1024.81 480.35 L1027.78 472.12 L1029.42 503.40 L1031.89 458.95 L1033.87 496.81 L1034.69 490.23 L1037.16 431.79 L1039.30 496.81 L1042.10 474.59 L1043.74 490.23 L1045.39 478.70 L1047.86 483.64 L1049.51 502.57 L1051.98 497.63 L1053.62 500.10 L1055.27 455.66 L1057.24 501.75 L1059.71 468.83 L1062.35 506.69 L1064.32 478.70 L1065.97 440.84 L1067.94 440.84 L1069.26 488.58 L1070.91 503.40 L1072.55 490.23 L1074.53 498.46 L1075.84 486.93 L1077.49 501.75 L1079.47 471.30 L1081.60 496.81 L1082.76 493.52 L1084.90 511.63 L1086.71 478.70 L1088.35 511.63 L1090.16 475.41 L1092.30 505.04 L1094.28 458.95 L1096.42 496.81 L1097.24 491.87 L1099.71 503.40 L1101.69 477.06 L1103.50 495.16 L1104.98 480.35 L1107.45 501.75 L1109.26 493.52 L1110.74 500.10 L1113.05 457.30 L1115.35 467.18 L1116.67 509.16 L1118.15 472.12 L1119.47 501.75 L1121.60 458.13 L1123.58 490.23 L1125.23 500.93 L1128.02 482.00 L1130.66 510.80 L1132.63 483.64 L1133.95 424.38 L1135.93 473.77 L1137.57 468.83 L1139.71 419.44 L1141.69 470.47 L1143.33 501.75 L1144.98 396.40 L1146.95 463.89 L1149.42 511.63 L1151.56 491.87 L1153.21 393.93 L1154.86 490.23 L1156.17 509.16 L1158.15 501.75 L1161.32 453.19 L1163.29 503.40 L1166.26 454.01 L1168.23 490.23 L1170.21 513.27 L1172.35 490.23 L1173.99 486.93 L1175.14 505.04 L1176.46 483.64 L1178.11 506.69 L1179.75 478.70 L1181.40 514.92 L1182.39 516.56 L1184.20 486.93 L1284.28 516.56 L1286.75 516.07 L1293.00 516.07 L1293.33 516.89 M1510.13 517.24 L1510.41 516.12 L1512.65 516.12 L1512.84 517.24 M1533.73 517.24 L1534.10 514.63 L1535.97 514.63 L1536.25 517.24 L1538.58 516.68 L1540.63 512.57 L1542.31 514.81 L1544.37 515.75 L1545.76 516.03 L1547.35 515.09 L1549.03 516.12 L1550.90 516.12 L1551.08 517.24 M1556.49 516.31 L1558.82 515.75 L1560.04 512.76 L1561.16 515.75 L1562.09 517.24 L1565.82 517.24 L1566.19 512.76 L1566.94 506.23 L1567.78 512.76 L1568.25 516.31 M1572.63 517.24 L1573.28 516.03 L1574.40 515.09 L1575.62 516.31 M1581.49 516.31 L1583.54 516.03 L1584.94 514.63 L1586.16 516.31 M1598.28 517.24 L1598.66 516.12 L1601.27 516.12 L1601.46 517.24" fill="none" stroke="#73bf69" stroke-width="1" stroke-linejoin="round" stroke-opacity="0.0"/>
<text class="ax" x="894.4" y="535" text-anchor="middle">07:45</text>
<text class="ax" x="955.4" y="535" text-anchor="middle">08:00</text>
<text class="ax" x="1017.4" y="535" text-anchor="middle">08:15</text>
<text class="ax" x="1078.4" y="535" text-anchor="middle">08:30</text>
<text class="ax" x="1140.4" y="535" text-anchor="middle">08:45</text>
<text class="ax" x="1201.4" y="535" text-anchor="middle">09:00</text>
<text class="ax" x="1262.4" y="535" text-anchor="middle">09:15</text>
<text class="ax" x="1324.4" y="535" text-anchor="middle">09:30</text>
<text class="ax" x="1385.4" y="535" text-anchor="middle">09:45</text>
<text class="ax" x="1447.4" y="535" text-anchor="middle">10:00</text>
<text class="ax" x="1508.4" y="535" text-anchor="middle">10:15</text>
<text class="ax" x="1569.4" y="535" text-anchor="middle">10:30</text>
<text class="ax" x="857" y="389.2" text-anchor="end">300</text>
<text class="ax" x="857" y="433.2" text-anchor="end">200</text>
<text class="ax" x="857" y="476.2" text-anchor="end">100</text>
<text class="ax" x="857" y="520.2" text-anchor="end">0</text>
<path d="M653.40 174.01 A61.2 61.2 0 1 1 769.80 174.01 L752.88 168.51 A43.4 43.4 0 1 0 670.32 168.51 Z" fill="#22252b"/>
<path d="M653.40 174.01 A61.2 61.2 0 0 1 651.85 168.35 L669.23 164.49 A43.4 43.4 0 0 0 670.32 168.51 Z" fill="#299c46"/>
<path d="M649.97 175.12 A64.8 64.8 0 0 1 711.60 90.30 L711.60 92.70 A62.4 62.4 0 0 0 652.25 174.38 Z" fill="#299c46"/>
<path d="M711.60 90.30 A64.8 64.8 0 0 1 763.69 116.56 L761.76 117.98 A62.4 62.4 0 0 0 711.60 92.70 Z" fill="#ed8128"/>
<path d="M763.69 116.56 A64.8 64.8 0 0 1 773.23 175.12 L770.95 174.38 A62.4 62.4 0 0 0 761.76 117.98 Z" fill="#d44a3a"/>
<text x="711.0" y="167" text-anchor="middle" style="font-size:20.5px;fill:#299c46;stroke:#299c46;stroke-width:0.4px;letter-spacing:0.2px">2.98 s</text>
</svg>
<div id="topbar" class="abs" style="left:0;top:0;width:1611px;height:52px;background:#131115">
<svg width="1611" height="40" viewBox="0 0 1611 40">
<g fill="none" stroke="#ccccdc" stroke-width="1.4"><rect x="10.9" y="12.9" width="5.6" height="5.6" rx="0.8"/><rect x="19.6" y="12.9" width="5.6" height="5.6" rx="0.8"/><rect x="10.9" y="21.6" width="5.6" height="5.6" rx="0.8"/><rect x="19.6" y="21.6" width="5.6" height="5.6" rx="0.8"/></g>
<path d="M191.00 13.40 L193.06 17.97 L198.04 18.51 L194.33 21.88 L195.35 26.79 L191.00 24.30 L186.65 26.79 L187.67 21.88 L183.96 18.51 L188.94 17.97 Z" fill="none" stroke="#ccccdc" stroke-width="1.4" stroke-linejoin="round"/>
<g fill="none" stroke="#ccccdc" stroke-width="1.4"><circle cx="229.4" cy="15.3" r="2.4"/><circle cx="220.4" cy="20" r="2.4"/><circle cx="229.4" cy="24.7" r="2.4"/><path d="M222.5 18.9 L227.3 16.4 M222.5 21.1 L227.3 23.6"/></g>
</svg>
<div class="abs" id="title" style="left:35px;top:8px;font-size:18px;line-height:24px;white-space:nowrap;color:#ccccdc"><span>Main</span><span style="position:absolute;left:48.5px">/</span><span style="position:absolute;left:60.5px;letter-spacing:-0.7px">ETH Node</span></div>
<div class="tbtn" style="left:1292px;width:42px"><svg width="40" height="30" viewBox="0 0 40 30"><defs><linearGradient id="gb" x1="0" y1="0" x2="0" y2="1"><stop offset="0" stop-color="#a3a3ae"/><stop offset="1" stop-color="#8a8a96"/></linearGradient><linearGradient id="gp" x1="0" y1="0" x2="0" y2="1"><stop offset="0" stop-color="#ffc23f"/><stop offset="1" stop-color="#f2951f"/></linearGradient></defs><g fill="url(#gb)"><rect x="7.9" y="13.2" width="3.3" height="8.3" rx="0.5"/><rect x="12.1" y="10.4" width="3.6" height="11.1" rx="0.5"/><rect x="16.7" y="15.5" width="3.3" height="6" rx="0.5"/><rect x="20.9" y="8.5" width="3.2" height="13" rx="0.5"/></g><path d="M27.45 10.6 v8.8 M22.9 15 h9.1" stroke="#181c1e" stroke-width="4.6" fill="none"/><path d="M27.45 10.9 v8.2 M23.2 15 h8.5" stroke="url(#gp)" stroke-width="3" fill="none"/><rect x="26" y="10.9" width="2.9" height="8.2" fill="url(#gp)"/></svg></div>
<div class="tbtn" style="left:1342px;width:36px"><svg width="34" height="30" viewBox="0 0 34 30"><g fill="none" stroke="#9fa0ab" stroke-width="1.5" stroke-linejoin="round"><path d="M12.6 9.1 H19.6 L23.1 12.6 V19.6 a1.7 1.7 0 0 1 -1.7 1.7 H12.6 a1.7 1.7 0 0 1 -1.7 -1.7 V10.8 a1.7 1.7 0 0 1 1.7 -1.7 Z"/><path d="M14.1 21 V17 H20 V21 M14 9.4 V11.9 H18.6 V9.4"/></g></svg></div>
<div class="tbtn" style="left:1386px;width:36px"><svg width="36" height="32" viewBox="0 0 36 32"><path d="M24.26 13.57 L24.26 16.43 L22.33 16.70 L22.03 17.42 L23.20 18.98 L21.18 21.00 L19.62 19.83 L18.90 20.13 L18.63 22.06 L15.77 22.06 L15.50 20.13 L14.78 19.83 L13.22 21.00 L11.20 18.98 L12.37 17.42 L12.07 16.70 L10.14 16.43 L10.14 13.57 L12.07 13.30 L12.37 12.58 L11.20 11.02 L13.22 9.00 L14.78 10.17 L15.50 9.87 L15.77 7.94 L18.63 7.94 L18.90 9.87 L19.62 10.17 L21.18 9.00 L23.20 11.02 L22.03 12.58 L22.33 13.30 Z" fill="none" stroke="#a6a7b2" stroke-width="1.3" stroke-linejoin="round"/><circle cx="17.2" cy="15" r="2.3" fill="none" stroke="#a6a7b2" stroke-width="1.3"/></svg></div>
<div class="tbtn" style="left:1430px;width:171px;border-radius:2px 0 0 2px"><svg width="171" height="32" viewBox="0 0 171 32"><circle cx="17" cy="15" r="6.9" fill="none" stroke="#a6a7b2" stroke-width="1.3"/><path d="M17 10.8 V15.3 H14" fill="none" stroke="#a6a7b2" stroke-width="1.3"/><path d="M149.9 13 L153.2 16.3 L156.5 13" fill="none" stroke="#a6a7b2" stroke-width="1.4"/></svg><span class="abs" style="left:33.5px;top:0;line-height:30px;font-size:14px;white-space:nowrap;-webkit-text-stroke:0.3px #ccccdc;letter-spacing:0.15px">Last 3 hours</span><span class="abs" style="left:119.5px;top:0.5px;line-height:30px;font-size:12.4px;color:#f58220;-webkit-text-stroke:0.25px #f58220;white-space:nowrap;transform:scaleX(0.87);transform-origin:0 50%">CET</span></div>
<div class="tbtn" style="left:1600px;width:36px;border-radius:0 2px 2px 0"><svg width="36" height="32" viewBox="0 0 36 32"><circle cx="16" cy="14.5" r="6" fill="none" stroke="#a6a7b2" stroke-width="1.3"/></svg></div>
</div>
</body>
</html>
